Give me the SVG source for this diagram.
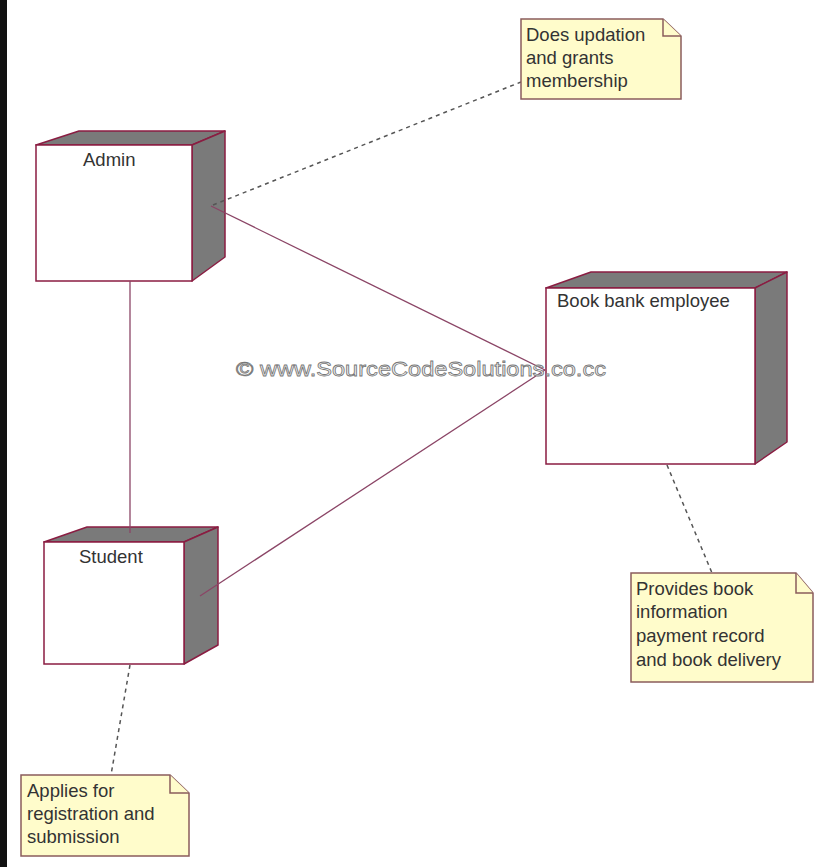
<svg xmlns="http://www.w3.org/2000/svg" width="827" height="867" viewBox="0 0 827 867">
<style>
.front{fill:#ffffff;stroke:#8a1d42;stroke-width:1.5}
.side{fill:#7a7a7a;stroke:#8a1d42;stroke-width:1.5;stroke-linejoin:round}
.lbl{font-family:"Liberation Sans",Arial,sans-serif;font-size:18.5px;fill:#333333}
.note{fill:#fffccb;stroke:#8b5c5c;stroke-width:1.5}
.conn{stroke:#8b4566;stroke-width:1.3;fill:none}
.dash{stroke:#555555;stroke-width:1.5;fill:none;stroke-dasharray:4 4}
.wm{font-family:"Liberation Sans",Arial,sans-serif;font-size:21px;fill:#f4f4f4;stroke:#777777;stroke-width:0.8}
</style>
<rect x="0" y="0" width="827" height="867" fill="#ffffff"/>
<rect x="0" y="0" width="7" height="867" fill="#111111"/>
<g id="admin">
<polygon class="side" points="36,145 79,131 225,131 192,145"/>
<polygon class="side" points="192,145 225,131 225,257 192,281"/>
<rect class="front" x="36" y="145" width="156" height="136"/>
<text class="lbl" x="83" y="166">Admin</text>
</g>
<g id="bookbank">
<polygon class="side" points="546,288 591,272 787,272 755,288"/>
<polygon class="side" points="755,288 787,272 787,442 755,464"/>
<rect class="front" x="546" y="288" width="209" height="176"/>
<text class="lbl" x="557" y="307">Book bank employee</text>
</g>
<g id="student">
<polygon class="side" points="44,542 87,527 218,527 184,542"/>
<polygon class="side" points="184,542 218,527 218,645 184,664"/>
<rect class="front" x="44" y="542" width="140" height="122"/>
<text class="lbl" x="79" y="563">Student</text>
</g>
<g id="connectors">
<line class="conn" x1="130" y1="281" x2="130" y2="533"/>
<line class="conn" x1="211" y1="206" x2="545" y2="370"/>
<line class="conn" x1="200" y1="596" x2="545" y2="370"/>
<line class="dash" x1="213" y1="205" x2="521" y2="82"/>
<line class="dash" x1="667" y1="465" x2="712" y2="573"/>
<line class="dash" x1="130" y1="665" x2="111" y2="775"/>
</g>
<g id="note-admin">
<path class="note" d="M521,19 H663 L681,36 V99 H521 Z"/>
<path class="note" d="M663,19 V36 H681" fill="none"/>
<text class="lbl" x="526" y="41">Does updation</text>
<text class="lbl" x="526" y="64">and grants</text>
<text class="lbl" x="526" y="87">membership</text>
</g>
<g id="note-bookbank">
<path class="note" d="M631,573 H796 L813,593 V682 H631 Z"/>
<path class="note" d="M796,573 V593 H813" fill="none"/>
<text class="lbl" x="636" y="595">Provides book</text>
<text class="lbl" x="636" y="618">information</text>
<text class="lbl" x="636" y="642">payment record</text>
<text class="lbl" x="636" y="666">and book delivery</text>
</g>
<g id="note-student">
<path class="note" d="M21,775 H170 L189,793 V856 H21 Z"/>
<path class="note" d="M170,775 V793 H189" fill="none"/>
<text class="lbl" x="27" y="797">Applies for</text>
<text class="lbl" x="27" y="820">registration and</text>
<text class="lbl" x="27" y="843">submission</text>
</g>
<text class="wm" x="236" y="376" textLength="370" lengthAdjust="spacingAndGlyphs">© www.SourceCodeSolutions.co.cc</text>
</svg>
